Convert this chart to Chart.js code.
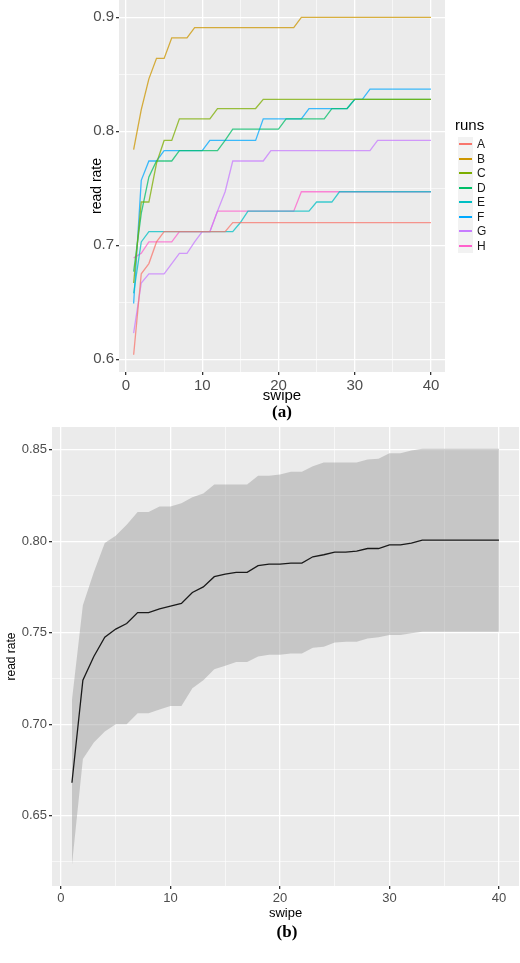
<!DOCTYPE html>
<html><head><meta charset="utf-8">
<script src="https://cdn.jsdelivr.net/npm/chart.js@4.4.1/dist/chart.umd.min.js"></script>
<style>
body{margin:0;background:#fff;width:520px;height:963px;position:relative;overflow:hidden;font-family:"Liberation Sans",Arial,sans-serif}
#c1{position:absolute;left:0;top:0}
#c2{position:absolute;left:0;top:420px}
.lab{position:absolute;font-family:"Liberation Serif","Times New Roman",serif;font-weight:bold;font-size:17px;transform:translateX(-50%)}
#legend{position:absolute;left:455px;top:116px;font-size:13px;color:#000}
#legend .t{font-size:15px;margin-bottom:4px}
#legend .r{height:14.5px;display:flex;align-items:center}
#legend .k{width:15px;height:14.5px;background:#F2F2F2;position:relative;margin-left:3px;margin-right:4px}
#legend .k i{position:absolute;left:1px;right:1px;top:6px;height:2px;display:block}
#legend .r span{font-size:12px;color:#1a1a1a}
</style></head><body>
<canvas id="c1" width="520" height="410" style="width:520px;height:410px"></canvas>
<div class="lab" style="left:282px;top:402px">(a)</div>
<canvas id="c2" width="520" height="505" style="width:520px;height:505px"></canvas>
<div class="lab" style="left:287px;top:922px">(b)</div>
<div id="legend"></div>
<script>
const swipe = [1,2,3,4,5,6,7,8,9,10,11,12,13,14,15,16,17,18,19,20,21,22,23,24,25,26,27,28,29,30,31,32,33,34,35,36,37,38,39,40];
const runs = ["A","B","C","D","E","F","G","H"];
const runColors = ["#F8766D","#CD9600","#7CAE00","#00BE67","#00BFC4","#00A9FF","#C77CFF","#FF61CC"];
const runA = [0.604,0.675,0.684,0.703,0.712,0.712,0.712,0.712,0.712,0.712,0.712,0.712,0.712,0.720,0.720,0.720,0.720,0.720,0.720,0.720,0.720,0.720,0.720,0.720,0.720,0.720,0.720,0.720,0.720,0.720,0.720,0.720,0.720,0.720,0.720,0.720,0.720,0.720,0.720,0.720];
const runB = [0.784,0.819,0.846,0.864,0.864,0.882,0.882,0.882,0.891,0.891,0.891,0.891,0.891,0.891,0.891,0.891,0.891,0.891,0.891,0.891,0.891,0.891,0.900,0.900,0.900,0.900,0.900,0.900,0.900,0.900,0.900,0.900,0.900,0.900,0.900,0.900,0.900,0.900,0.900,0.900];
const runC = [0.667,0.738,0.738,0.772,0.792,0.792,0.811,0.811,0.811,0.811,0.811,0.820,0.820,0.820,0.820,0.820,0.820,0.828,0.828,0.828,0.828,0.828,0.828,0.828,0.828,0.828,0.828,0.828,0.828,0.828,0.828,0.828,0.828,0.828,0.828,0.828,0.828,0.828,0.828,0.828];
const runD = [0.677,0.728,0.760,0.774,0.774,0.774,0.783,0.783,0.783,0.783,0.783,0.783,0.792,0.802,0.802,0.802,0.802,0.802,0.802,0.802,0.811,0.811,0.811,0.811,0.811,0.811,0.820,0.820,0.820,0.828,0.828,0.828,0.828,0.828,0.828,0.828,0.828,0.828,0.828,0.828];
const runE = [0.658,0.703,0.712,0.712,0.712,0.712,0.712,0.712,0.712,0.712,0.712,0.712,0.712,0.712,0.720,0.730,0.730,0.730,0.730,0.730,0.730,0.730,0.730,0.730,0.738,0.738,0.738,0.747,0.747,0.747,0.747,0.747,0.747,0.747,0.747,0.747,0.747,0.747,0.747,0.747];
const runF = [0.649,0.757,0.774,0.774,0.783,0.783,0.783,0.783,0.783,0.783,0.792,0.792,0.792,0.792,0.792,0.792,0.792,0.811,0.811,0.811,0.811,0.811,0.811,0.820,0.820,0.820,0.820,0.820,0.820,0.828,0.828,0.837,0.837,0.837,0.837,0.837,0.837,0.837,0.837,0.837];
const runG = [0.623,0.667,0.675,0.675,0.675,0.684,0.693,0.693,0.703,0.712,0.712,0.730,0.747,0.774,0.774,0.774,0.774,0.774,0.783,0.783,0.783,0.783,0.783,0.783,0.783,0.783,0.783,0.783,0.783,0.783,0.783,0.783,0.792,0.792,0.792,0.792,0.792,0.792,0.792,0.792];
const runH = [0.689,0.693,0.703,0.703,0.703,0.703,0.712,0.712,0.712,0.712,0.712,0.730,0.730,0.730,0.730,0.730,0.730,0.730,0.730,0.730,0.730,0.730,0.747,0.747,0.747,0.747,0.747,0.747,0.747,0.747,0.747,0.747,0.747,0.747,0.747,0.747,0.747,0.747,0.747,0.747];
const runSeries = [runA,runB,runC,runD,runE,runF,runG,runH];
const meanRate = [0.668,0.724,0.737,0.7475,0.752,0.755,0.761,0.761,0.763,0.7645,0.766,0.772,0.775,0.7806,0.782,0.783,0.783,0.7866,0.7875,0.7875,0.788,0.788,0.7915,0.7926,0.794,0.794,0.7946,0.796,0.796,0.798,0.798,0.799,0.8006,0.8006,0.8006,0.8006,0.8006,0.8006,0.8006,0.8006];
const upperRate = [0.713,0.765,0.783,0.799,0.803,0.809,0.816,0.816,0.819,0.819,0.8207,0.824,0.826,0.831,0.831,0.831,0.831,0.8358,0.8358,0.8365,0.838,0.838,0.841,0.843,0.843,0.843,0.843,0.8447,0.845,0.848,0.848,0.8495,0.8505,0.8505,0.8505,0.8505,0.8505,0.8505,0.8505,0.8505];
const lowerRate = [0.623,0.681,0.690,0.696,0.700,0.700,0.706,0.706,0.708,0.710,0.710,0.7196,0.724,0.730,0.732,0.734,0.734,0.737,0.738,0.738,0.7387,0.7387,0.7418,0.7423,0.7447,0.7450,0.7450,0.7469,0.7475,0.7487,0.7487,0.7497,0.7505,0.7505,0.7505,0.7505,0.7505,0.7505,0.7505,0.7505];
const xTicks = [0,5,10,15,20,25,30,35,40];
const yTicksA = [0.6,0.65,0.7,0.75,0.8,0.85,0.9];
const yTicksB = [0.625,0.65,0.675,0.7,0.725,0.75,0.775,0.8,0.825,0.85];

const bgPlugin = {id:'bg',beforeDraw(c){const a=c.chartArea,ctx=c.ctx;ctx.save();ctx.fillStyle='#EBEBEB';ctx.fillRect(a.left,a.top,a.right-a.left,a.bottom-a.top);ctx.restore();}};
const pts = arr => arr.map((v,i)=>({x:swipe[i],y:v}));

function axis(o){
  return {
    type:'linear', min:o.min, max:o.max, position:o.pos,
    afterBuildTicks(s){ s.ticks = o.ticks.map(v=>({value:v, major:o.isMajor(v)})); },
    afterFit(s){ if(o.pos==='left'){s.width=o.size;} else {s.height=o.size;} s.paddingTop=0;s.paddingBottom=0;s.paddingLeft=0;s.paddingRight=0; },
    border:{display:false},
    grid:{ color:'#FFFFFF', lineWidth:c=>c.tick&&c.tick.major?1.3:0.6, tickLength:3, tickColor:c=>c.tick&&c.tick.major?'#333333':'rgba(0,0,0,0)', drawOnChartArea:true },
    ticks:{ autoSkip:false, maxRotation:0, padding:2, color:'#4D4D4D', font:{family:'Liberation Sans',size:o.fs},
      callback:(v)=> o.isMajor(v)? o.fmt(v) : '' },
    title:{display:true, text:o.title, color:'#000', font:{family:'Liberation Sans',size:o.tfs,lineHeight:1}, padding:o.tpad}
  };
}
const maj10 = v=>Math.abs(v/10-Math.round(v/10))<1e-6;

new Chart(document.getElementById('c1'),{
  type:'line',
  data:{datasets:runSeries.map((s,i)=>({label:runs[i],data:pts(s),borderColor:runColors[i]+'C0',borderWidth:1.3,pointRadius:0,tension:0,fill:false}))},
  options:{responsive:false,animation:false,devicePixelRatio:1,
    layout:{padding:{left:0,right:75,top:0,bottom:0}},
    plugins:{legend:{display:false},tooltip:{enabled:false}},
    scales:{
      x:axis({pos:'bottom',min:-0.92,max:41.84,ticks:xTicks,isMajor:maj10,fmt:v=>String(v),size:38,fs:15,title:'swipe',tfs:15,tpad:{top:6.5,bottom:6.5}}),
      y:axis({pos:'left',min:0.5889,max:0.9152,ticks:yTicksA,isMajor:v=>Math.abs(v*10-Math.round(v*10))<1e-6,fmt:v=>v.toFixed(1),size:119,fs:15,title:'read rate',tfs:14,tpad:{top:90,bottom:90}})
    }},
  plugins:[bgPlugin]
});

new Chart(document.getElementById('c2'),{
  type:'line',
  data:{datasets:[
    {label:'mean',data:pts(meanRate),borderColor:'#1a1a1a',borderWidth:1.3,pointRadius:0,tension:0,fill:false,order:0},
    {label:'lower',data:pts(lowerRate),borderColor:'rgba(0,0,0,0)',borderWidth:0,pointRadius:0,tension:0,fill:false,order:2},
    {label:'upper',data:pts(upperRate),borderColor:'rgba(0,0,0,0)',borderWidth:0,pointRadius:0,tension:0,fill:'-1',backgroundColor:'rgba(153,153,153,0.45)',order:1}
  ]},
  options:{responsive:false,animation:false,devicePixelRatio:1,
    layout:{padding:{left:0,right:1,top:7,bottom:0}},
    plugins:{legend:{display:false},tooltip:{enabled:false},filler:{propagate:false}},
    scales:{
      x:axis({pos:'bottom',min:-0.82,max:41.83,ticks:xTicks,isMajor:maj10,fmt:v=>String(v),size:39,fs:13,title:'swipe',tfs:13,tpad:{top:5.5,bottom:5.5}}),
      y:axis({pos:'left',min:0.6116,max:0.8624,ticks:yTicksB,isMajor:v=>Math.abs(v*20-Math.round(v*20))<1e-6,fmt:v=>v.toFixed(2),size:52,fs:13,title:'read rate',tfs:12,tpad:{top:6,bottom:6}})
    }},
  plugins:[bgPlugin]
});

const lg=document.getElementById('legend');
let h='<div class="t">runs</div>';
runs.forEach((r,i)=>{h+=`<div class="r"><div class="k"><i style="background-color:${runColors[i]}"></i></div><span>${r}</span></div>`;});
lg.innerHTML=h;
</script>
</body></html>
